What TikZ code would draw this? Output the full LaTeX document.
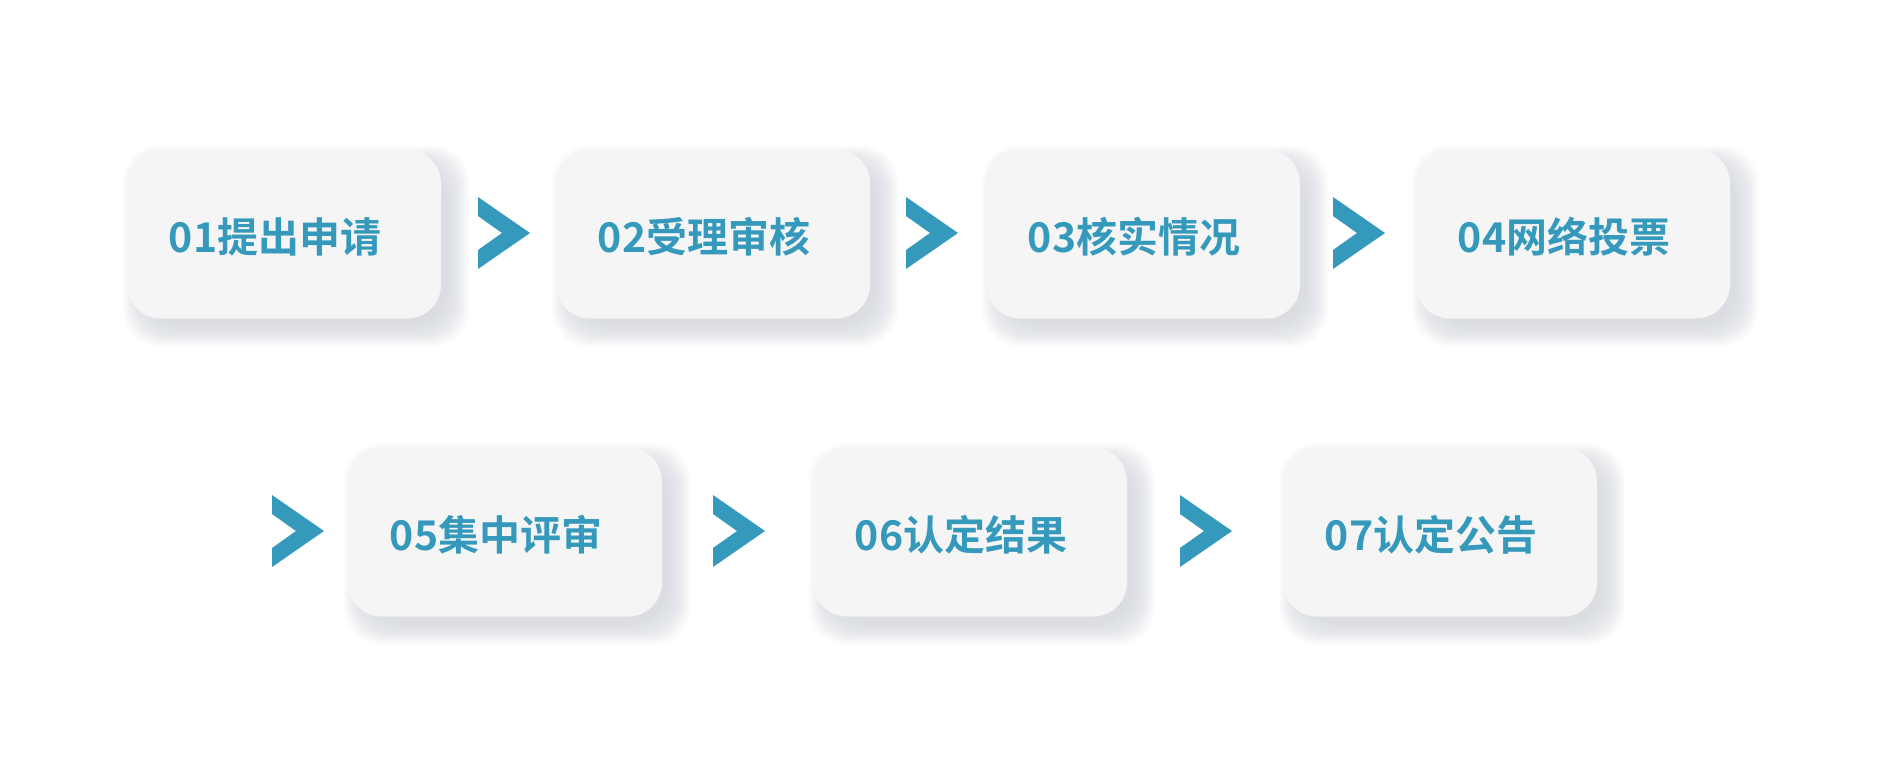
\documentclass[tikz,border=0pt]{standalone}
\usepackage{fontspec}
\newfontfamily\cjkbold{Noto Sans CJK SC Bold}
\pgfdeclarelayer{shadowlayer}
\pgfsetlayers{shadowlayer,main}
\definecolor{flowblue}{HTML}{3599BC}
\definecolor{boxgray}{HTML}{F5F5F6}
\definecolor{shadegray}{HTML}{C9CED9}
\tikzstyle{stepbox}=[rounded corners=34pt,fill=boxgray,minimum width=314pt,minimum height=169pt,inner sep=0pt]
\tikzstyle{steptext}=[inner sep=0pt,text=flowblue,font=\cjkbold\fontsize{41}{49}\selectfont]
\tikzstyle{chevron}=[fill=flowblue]
\tikzstyle{shade}=[fill=shadegray,opacity=0.035,rounded corners=36pt]
\newcommand{\chev}[1]{\fill[chevron] (#1) ++(0,-36) -- ++(52,36) -- ++(-52,36) -- ++(0,-19) -- ++(24,-17) -- ++(-24,-17) -- cycle;}

\begin{document}
\begin{tikzpicture}[x=1pt,y=-1pt]
	\useasboundingbox (0,0) rectangle (1889,774);
	\begin{pgfonlayer}{shadowlayer}
		\fill[white] (0,0) rectangle (1889,774);
	\end{pgfonlayer}
	% first row
	\node[stepbox] (b1) at (284,234) {};
	\node[stepbox] (b2) at (713,234) {};
	\node[stepbox] (b3) at (1143,234) {};
	\node[stepbox] (b4) at (1573,234) {};
	% second row
	\node[stepbox] (b5) at (505,532) {};
	\node[stepbox] (b6) at (970,532) {};
	\node[stepbox] (b7) at (1440,532) {};
	% labels
	\node[steptext] (t1) at ([shift={(-9,3)}]b1) {01提出申请};
	\node[steptext] (t2) at ([shift={(-9,3)}]b2) {02受理审核};
	\node[steptext] (t3) at ([shift={(-9,3)}]b3) {03核实情况};
	\node[steptext] (t4) at ([shift={(-9,3)}]b4) {04网络投票};
	\node[steptext] (t5) at ([shift={(-9,3)}]b5) {05集中评审};
	\node[steptext] (t6) at ([shift={(-9,3)}]b6) {06认定结果};
	\node[steptext] (t7) at ([shift={(-9,3)}]b7) {07认定公告};
	% chevrons
	\coordinate (a1) at (478,233);
	\coordinate (a2) at (906,233);
	\coordinate (a3) at (1333,233);
	\coordinate (a4) at (272,531);
	\coordinate (a5) at (713,531);
	\coordinate (a6) at (1180,531);
	\foreach \a in {a1,a2,a3,a4,a5,a6} {\chev{\a}}
	\begin{pgfonlayer}{shadowlayer}
		\foreach \b in {b1,b2,b3,b4,b5,b6,b7}
			\foreach \i in {-6,...,16}
				\fill[shade] ([shift={(12-\i,12-\i)}]\b.north west) rectangle ([shift={(12+\i,12+\i)}]\b.south east);
	\end{pgfonlayer}
\end{tikzpicture}
\end{document}
